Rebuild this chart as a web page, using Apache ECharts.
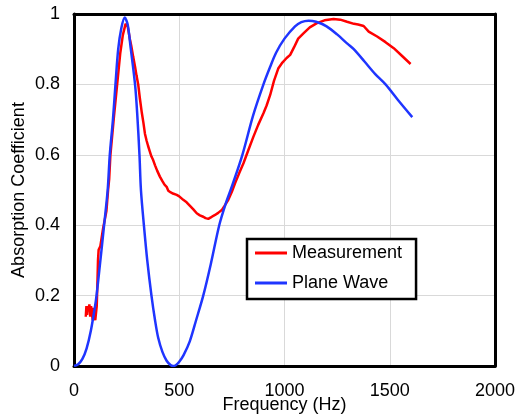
<!DOCTYPE html>
<html>
<head>
<meta charset="utf-8">
<script src="https://cdn.jsdelivr.net/npm/echarts@6/dist/echarts.min.js"></script>
<style>
html,body{margin:0;padding:0;background:#fff;}
#chart{width:517px;height:419px;}
</style>
</head>
<body>
<div id="chart"></div>
<script>
// Measurement (Hz, absorption coefficient)
var measFreq = [56,59,62,65,69,73,77,81,85,89,93,97,101,105,108,111,114,117,121,125,138,154,162,167,173,190,205,220,232,245,255,265,272,281,290,297,305,313,322,330,337,345,352,360,368,376,385,395,408,420,430,440,448,460,470,488,500,519,535,551,567,583,598,614,625,638,650,660,670,685,702,715,733,750,765,785,805,828,852,875,900,915,932,950,971,990,1010,1027,1045,1065,1090,1120,1154,1190,1233,1265,1297,1330,1350,1376,1400,1440,1480,1519,1560,1599];
var measVal  = [0.14,0.17,0.145,0.17,0.16,0.175,0.14,0.17,0.15,0.13,0.165,0.15,0.13,0.125,0.17,0.23,0.30,0.33,0.335,0.34,0.39,0.44,0.50,0.53,0.60,0.71,0.80,0.89,0.94,0.972,0.965,0.93,0.91,0.879,0.85,0.825,0.80,0.76,0.72,0.69,0.66,0.64,0.625,0.61,0.595,0.585,0.57,0.555,0.538,0.525,0.515,0.509,0.498,0.493,0.49,0.486,0.482,0.472,0.465,0.455,0.445,0.434,0.428,0.424,0.42,0.418,0.422,0.426,0.429,0.435,0.443,0.455,0.472,0.495,0.519,0.548,0.576,0.613,0.651,0.685,0.718,0.74,0.77,0.81,0.846,0.862,0.875,0.884,0.905,0.93,0.945,0.962,0.974,0.982,0.986,0.984,0.978,0.972,0.97,0.966,0.95,0.936,0.92,0.903,0.88,0.858];
// Plane wave (Hz, absorption coefficient)
var planeFreq = [0,20,40,60,80,100,107,120,143,160,170,185,197,210,225,241,255,270,290,300,311,318,332,348,368,385,400,420,440,460,471,485,500,520,550,580,614,650,690,720,750,800,850,900,932,960,1000,1050,1080,1114,1150,1200,1250,1300,1329,1380,1430,1480,1540,1607];
var planeVal  = [0,0.005,0.02,0.05,0.10,0.17,0.20,0.27,0.40,0.50,0.60,0.70,0.80,0.90,0.96,0.99,0.97,0.90,0.80,0.72,0.60,0.50,0.40,0.30,0.20,0.13,0.08,0.04,0.015,0.002,0,0.003,0.012,0.03,0.07,0.13,0.20,0.29,0.40,0.46,0.51,0.60,0.71,0.80,0.85,0.89,0.93,0.965,0.977,0.981,0.978,0.965,0.942,0.915,0.90,0.865,0.83,0.80,0.755,0.707];
var seriesNames = ['Measurement','Plane Wave'];
var xTicks = {min:0, max:2000, interval:500};
var yTicks = {min:0, max:1, interval:0.2};

function pairs(xs, ys){ return xs.map(function(x,i){ return [x, ys[i]]; }); }

var FONT = 'Liberation Sans';
var frameLine = {show:true, onZero:false, lineStyle:{color:'#000', width:3}};
var chart = echarts.init(document.getElementById('chart'), null, {renderer:'canvas'});
chart.setOption({
  animation:false,
  backgroundColor:'#fff',
  grid:{left:74, right:22, top:14, bottom:53, containLabel:false, outerBoundsMode:'none'},
  legend:{
    orient:'vertical', left:247, top:239,
    icon:'rect', itemWidth:32, itemHeight:3, itemGap:12,
    padding:[5,14,7,8],
    borderColor:'#000', borderWidth:2.5, backgroundColor:'#fff',
    textStyle:{fontFamily:FONT, fontSize:18, color:'#000'},
    data:seriesNames
  },
  xAxis:[{
    type:'value', min:xTicks.min, max:xTicks.max, interval:xTicks.interval,
    name:'Frequency (Hz)', nameLocation:'middle', nameGap:30, nameMoveOverlap:false,
    nameTextStyle:{fontFamily:FONT, fontSize:18, color:'#000'},
    axisLine:frameLine, axisTick:{show:false},
    axisLabel:{fontFamily:FONT, fontSize:18, color:'#000', margin:16, formatter:function(v){return String(v);}},
    splitLine:{show:true, lineStyle:{color:'#d9d9d9', width:1}}
  },{
    type:'value', position:'top', min:xTicks.min, max:xTicks.max, interval:xTicks.interval,
    axisLine:frameLine, axisTick:{show:false}, axisLabel:{show:false}, splitLine:{show:false}
  }],
  yAxis:[{
    type:'value', min:yTicks.min, max:yTicks.max, interval:yTicks.interval,
    name:'Absorption Coefficient', nameLocation:'middle', nameGap:46, nameMoveOverlap:false,
    nameTextStyle:{fontFamily:FONT, fontSize:18, color:'#000'},
    axisLine:frameLine, axisTick:{show:false},
    axisLabel:{fontFamily:FONT, fontSize:18, color:'#000', margin:14},
    splitLine:{show:true, lineStyle:{color:'#d9d9d9', width:1}}
  },{
    type:'value', position:'right', min:yTicks.min, max:yTicks.max, interval:yTicks.interval,
    axisLine:frameLine, axisTick:{show:false}, axisLabel:{show:false}, splitLine:{show:false}
  }],
  series:[
    {name:seriesNames[0], type:'line', data:pairs(measFreq, measVal), showSymbol:false, symbol:'none',
     lineStyle:{color:'#ff0000', width:2.5}, itemStyle:{color:'#ff0000'}},
    {name:seriesNames[1], type:'line', data:pairs(planeFreq, planeVal), showSymbol:false, symbol:'none', smooth:0.3,
     lineStyle:{color:'#1f35ff', width:2.5}, itemStyle:{color:'#1f35ff'}}
  ]
});
</script>
</body>
</html>
